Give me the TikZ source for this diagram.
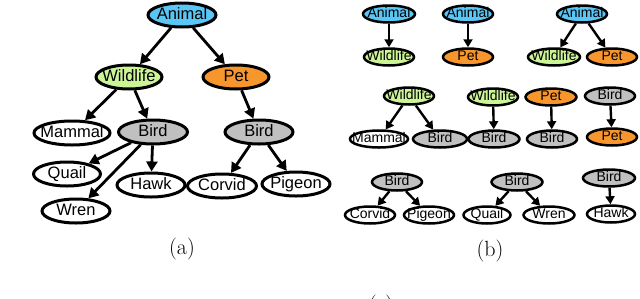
\documentclass[tikz,border=0pt]{standalone}
\usepackage{fontspec}
\usepackage{tikz}
\usetikzlibrary{arrows.meta,shapes.geometric,positioning}
\newfontfamily\nodefont{Liberation Sans}
\definecolor{animalblue}{RGB}{90,198,246}
\definecolor{wildgreen}{RGB}{204,245,152}
\definecolor{petorange}{RGB}{247,150,45}
\definecolor{birdgray}{RGB}{192,192,192}

\begin{document}
\begin{tikzpicture}[x=1pt,y=-1pt,
  oval/.style={ellipse,draw=black,fill=white,inner xsep=-15pt,inner ysep=-5pt,text height=9.5pt,text depth=2pt},
  big/.style={oval,line width=3pt,minimum width=68pt,minimum height=24pt,font=\nodefont\fontsize{16.5}{16.5}\selectfont,text height=11.5pt,text depth=2.5pt},
  small/.style={oval,line width=2.5pt,minimum width=50pt,minimum height=17pt,font=\nodefont\fontsize{14}{14}\selectfont},
  animal/.style={fill=animalblue},
  wild/.style={fill=wildgreen},
  pet/.style={fill=petorange},
  bird/.style={fill=birdgray},
  arrbig/.style={-{Triangle[length=10pt,width=11pt]},line width=2.8pt},
  arrsmall/.style={-{Triangle[length=8pt,width=9pt]},line width=2.4pt},
  caption/.style={font=\fontsize{22}{22}\selectfont,anchor=base}]
  \useasboundingbox (0,0) rectangle (640,298);
  % (a) the whole hierarchy
  \node[big,animal] (animal) at (182,15) {Animal};
  \node[big,wild,minimum width=66pt] (wildlife) at (129,77) {Wildlife};
  \node[big,pet,minimum width=66pt] (pet) at (236,77) {Pet};
  \node[big,minimum width=76pt] (mammal) at (72,133) {Mammal};
  \node[big,bird,minimum width=69pt] (birdw) at (153,132) {Bird};
  \node[big,bird] (birdp) at (259,132) {Bird};
  \node[big,minimum width=67pt] (quail) at (67,174) {Quail};
  \node[big] (hawk) at (151,185) {Hawk};
  \node[big,minimum width=69pt] (corvid) at (222,186) {Corvid};
  \node[big] (pigeon) at (296,184) {Pigeon};
  \node[big] (wren) at (76,211) {Wren};
  \foreach \a/\b in {animal/wildlife,animal/pet,wildlife/mammal,wildlife/birdw,pet/birdp,
                     birdw/quail,birdw/wren,birdw/hawk,birdp/corvid,birdp/pigeon}
    \draw[arrbig] (\a) -- (\b);
  \node[caption] (capa) at (182,254.5) {(a)};
  % (b) the pieces
  \node[small,animal,minimum width=52pt] (ana) at (389,14) {Animal};
  \node[small,wild] (wla) at (389,57) {Wildlife};
  \node[small,animal] (anb) at (468,14) {Animal};
  \node[small,pet] (peb) at (468,57) {Pet};
  \node[small,animal] (anc) at (582,14) {Animal};
  \node[small,wild,minimum width=52pt] (wlc) at (554,57) {Wildlife};
  \node[small,pet] (pec) at (612,57) {Pet};
  \node[small,wild] (wld) at (409,96) {Wildlife};
  \node[small,minimum width=58pt] (mad) at (379,139) {Mammal};
  \node[small,bird,minimum width=54pt] (bid) at (440,139) {Bird};
  \node[small,wild] (wle) at (493,97) {Wildlife};
  \node[small,bird,minimum width=51pt] (bie) at (494,139) {Bird};
  \node[small,pet,minimum width=51pt] (pef) at (551,97) {Pet};
  \node[small,bird] (bif) at (552,139) {Bird};
  \node[small,bird] (big) at (610,96) {Bird};
  \node[small,pet] (peg) at (612,137) {Pet};
  \node[small,bird] (bih) at (397,182) {Bird};
  \node[small] (coh) at (370,215) {Corvid};
  \node[small] (pih) at (429,215) {Pigeon};
  \node[small,bird,minimum width=51pt] (bii) at (517,182) {Bird};
  \node[small,minimum width=47pt] (qui) at (487,215) {Quail};
  \node[small,minimum width=51pt] (wri) at (549,215) {Wren};
  \node[small,bird,minimum width=52pt] (bij) at (609,178) {Bird};
  \node[small,minimum width=48pt] (haj) at (611,214) {Hawk};
  \foreach \a/\b in {ana/wla,anb/peb,anc/wlc,anc/pec,wld/mad,wld/bid,wle/bie,pef/bif,big/peg,
                     bih/coh,bih/pih,bii/qui,bii/wri,bij/haj}
    \draw[arrsmall] (\a) -- (\b);
  \node[caption] (capb) at (490,256) {(b)};
  \node[caption] (capc) at (381,311.5) {(c)};
\end{tikzpicture}
\end{document}
